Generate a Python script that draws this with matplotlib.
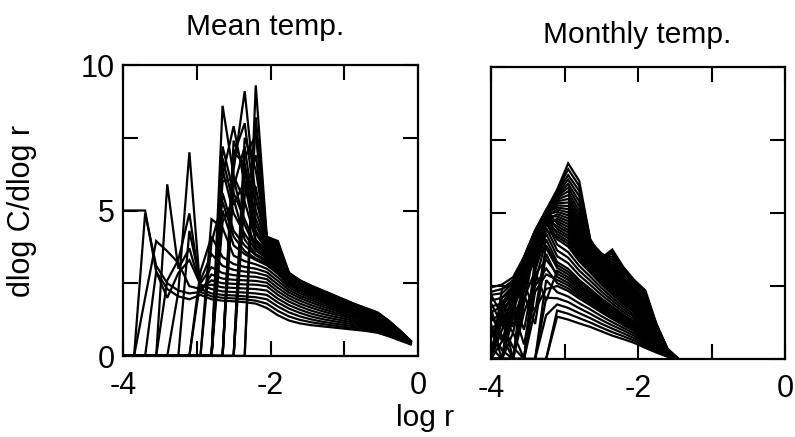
import matplotlib
matplotlib.use("Agg")
import matplotlib.pyplot as plt

plt.rcParams['font.family'] = ['Liberation Sans', 'DejaVu Sans']

# log r sampling grid shared by both panels
log_r = [-4.0, -3.85, -3.7, -3.55, -3.4, -3.25, -3.1, -2.95, -2.8, -2.65,
         -2.5, -2.35, -2.2, -2.05, -1.9, -1.75, -1.6, -1.45, -1.3, -1.15,
         -1.0, -0.85, -0.7, -0.55, -0.4, -0.25, -0.1]

# Local slopes dlog C / dlog r, mean temperature series (one list per curve)
mean_m01 = [5.0, 5.0, 5.0, 2.9, 2.3, 2.05, 1.95, 2.1, 1.95, 1.9, 1.88, 1.85, 1.8, 1.65, 1.40, 1.22, 1.12, 1.06, 1.02, 0.98, 0.94, 0.90, 0.86, 0.80, 0.68, 0.54, 0.40]
mean_m02 = [0.0, 0.0, 4.9, 3.1, 2.5, 2.25, 2.15, 2.2, 2.05, 2.0, 1.98, 1.95, 1.9, 1.80, 1.55, 1.36, 1.24, 1.16, 1.10, 1.05, 1.00, 0.96, 0.92, 0.86, 0.72, 0.57, 0.41]
mean_m03 = [0.0, 0.0, 2.0, 3.95, 3.6, 3.2, 2.4, 2.3, 2.15, 2.1, 2.08, 2.05, 2.02, 1.95, 1.70, 1.50, 1.36, 1.26, 1.18, 1.12, 1.07, 1.02, 0.97, 0.91, 0.76, 0.60, 0.42]
mean_m04 = [0.0, 0.0, 0.0, 2.9, 2.0, 2.85, 3.3, 2.45, 2.3, 2.22, 2.2, 2.18, 2.15, 2.10, 1.84, 1.63, 1.48, 1.36, 1.27, 1.20, 1.14, 1.08, 1.02, 0.96, 0.80, 0.63, 0.43]
mean_m05 = [0.0, 0.0, 0.0, 0.0, 5.9, 3.0, 3.7, 2.4, 2.45, 2.36, 2.34, 2.32, 2.3, 2.25, 1.97, 1.75, 1.59, 1.46, 1.36, 1.28, 1.21, 1.14, 1.07, 1.00, 0.84, 0.65, 0.44]
mean_m06 = [0.0, 0.0, 0.0, 0.0, 2.6, 3.3, 4.9, 2.3, 2.6, 2.5, 2.48, 2.46, 2.45, 2.40, 2.10, 1.87, 1.70, 1.56, 1.45, 1.36, 1.28, 1.20, 1.12, 1.04, 0.87, 0.67, 0.44]
mean_m07 = [0.0, 0.0, 0.0, 0.0, 0.0, 2.2, 7.0, 2.2, 2.8, 2.66, 2.62, 2.6, 2.58, 2.52, 2.22, 1.98, 1.80, 1.66, 1.54, 1.44, 1.35, 1.26, 1.17, 1.08, 0.90, 0.69, 0.45]
mean_m08 = [0.0, 0.0, 0.0, 0.0, 0.0, 0.0, 4.3, 2.5, 3.05, 2.85, 2.78, 2.74, 2.72, 2.64, 2.34, 2.08, 1.90, 1.75, 1.62, 1.51, 1.41, 1.32, 1.22, 1.12, 0.93, 0.71, 0.46]
mean_m09 = [0.0, 0.0, 0.0, 0.0, 0.0, 0.0, 0.0, 2.6, 3.5, 3.1, 2.96, 2.9, 2.86, 2.76, 2.46, 2.18, 1.99, 1.84, 1.70, 1.58, 1.47, 1.37, 1.27, 1.16, 0.96, 0.73, 0.46]
mean_m10 = [0.0, 0.0, 0.0, 0.0, 0.0, 0.0, 0.0, 2.9, 4.1, 3.4, 3.16, 3.06, 3.0, 2.88, 2.58, 2.27, 2.07, 1.92, 1.77, 1.64, 1.53, 1.42, 1.31, 1.20, 0.99, 0.75, 0.47]
mean_m11 = [0.0, 0.0, 0.0, 0.0, 0.0, 0.0, 0.0, 0.0, 4.7, 4.4, 3.45, 3.26, 3.15, 3.00, 2.70, 2.36, 2.15, 1.99, 1.84, 1.70, 1.58, 1.46, 1.35, 1.24, 1.02, 0.77, 0.47]
mean_m12 = [0.0, 0.0, 0.0, 0.0, 0.0, 0.0, 0.0, 0.0, 0.0, 5.0, 3.8, 3.5, 3.3, 3.12, 2.82, 2.44, 2.22, 2.06, 1.90, 1.76, 1.63, 1.51, 1.39, 1.27, 1.05, 0.78, 0.48]
mean_m13 = [0.0, 0.0, 0.0, 0.0, 0.0, 0.0, 0.0, 0.0, 0.0, 5.6, 4.3, 3.8, 3.46, 3.24, 2.94, 2.52, 2.29, 2.12, 1.96, 1.81, 1.68, 1.55, 1.42, 1.30, 1.07, 0.80, 0.48]
mean_m14 = [0.0, 0.0, 0.0, 0.0, 0.0, 0.0, 0.0, 0.0, 0.0, 6.4, 4.9, 4.2, 3.62, 3.36, 3.06, 2.59, 2.35, 2.18, 2.01, 1.86, 1.72, 1.58, 1.45, 1.33, 1.09, 0.81, 0.49]
mean_m15 = [0.0, 0.0, 0.0, 0.0, 0.0, 0.0, 0.0, 0.0, 0.0, 7.2, 5.6, 4.7, 3.8, 3.48, 3.18, 2.65, 2.41, 2.23, 2.06, 1.90, 1.76, 1.62, 1.48, 1.36, 1.11, 0.82, 0.49]
mean_m16 = [0.0, 0.0, 0.0, 0.0, 0.0, 0.0, 0.0, 0.0, 0.0, 8.6, 6.2, 5.3, 4.0, 3.60, 3.30, 2.70, 2.46, 2.28, 2.10, 1.94, 1.79, 1.65, 1.51, 1.38, 1.13, 0.83, 0.50]
mean_m17 = [0.0, 0.0, 0.0, 0.0, 0.0, 0.0, 0.0, 0.0, 0.0, 6.2, 7.9, 5.9, 4.3, 3.70, 3.42, 2.74, 2.50, 2.32, 2.14, 1.97, 1.82, 1.67, 1.53, 1.40, 1.15, 0.84, 0.50]
mean_m18 = [0.0, 0.0, 0.0, 0.0, 0.0, 0.0, 0.0, 0.0, 0.0, 0.0, 7.0, 6.6, 4.7, 3.80, 3.54, 2.77, 2.51, 2.33, 2.17, 2.00, 1.85, 1.70, 1.56, 1.42, 1.17, 0.85, 0.51]
mean_m19 = [0.0, 0.0, 0.0, 0.0, 0.0, 0.0, 0.0, 0.0, 0.0, 0.0, 6.4, 9.1, 5.4, 3.88, 3.65, 2.80, 2.54, 2.36, 2.20, 2.03, 1.88, 1.72, 1.58, 1.44, 1.18, 0.86, 0.51]
mean_m20 = [0.0, 0.0, 0.0, 0.0, 0.0, 0.0, 0.0, 0.0, 0.0, 0.0, 0.0, 7.5, 6.4, 3.96, 3.76, 2.82, 2.56, 2.38, 2.22, 2.06, 1.90, 1.74, 1.60, 1.46, 1.19, 0.87, 0.52]
mean_m21 = [0.0, 0.0, 0.0, 0.0, 0.0, 0.0, 0.0, 0.0, 0.0, 0.0, 0.0, 6.8, 7.6, 4.04, 3.86, 2.84, 2.58, 2.40, 2.24, 2.08, 1.92, 1.76, 1.62, 1.48, 1.21, 0.88, 0.52]
mean_m22 = [0.0, 0.0, 0.0, 0.0, 0.0, 0.0, 0.0, 0.0, 0.0, 0.0, 0.0, 0.0, 9.3, 4.10, 3.95, 2.86, 2.60, 2.42, 2.26, 2.10, 1.94, 1.78, 1.64, 1.50, 1.22, 0.88, 0.52]
mean_m23 = [0.0, 0.0, 0.0, 0.0, 0.0, 0.0, 0.0, 0.0, 3.9, 5.3, 4.1, 3.6, 3.35, 3.18, 2.88, 2.48, 2.26, 2.09, 1.93, 1.78, 1.65, 1.53, 1.40, 1.28, 1.06, 0.79, 0.48]
mean_m24 = [0.0, 0.0, 0.0, 0.0, 0.0, 0.0, 0.0, 0.0, 0.0, 4.6, 5.4, 4.0, 3.5, 3.30, 3.00, 2.55, 2.32, 2.15, 1.98, 1.83, 1.70, 1.56, 1.43, 1.31, 1.08, 0.80, 0.48]
mean_m25 = [0.0, 0.0, 0.0, 0.0, 0.0, 0.0, 0.0, 0.0, 0.0, 6.0, 6.1, 4.5, 3.7, 3.42, 3.12, 2.62, 2.38, 2.20, 2.03, 1.88, 1.74, 1.60, 1.46, 1.34, 1.10, 0.81, 0.49]
mean_m26 = [0.0, 0.0, 0.0, 0.0, 0.0, 0.0, 0.0, 0.0, 0.0, 6.8, 5.2, 6.0, 3.9, 3.54, 3.24, 2.67, 2.43, 2.25, 2.08, 1.92, 1.77, 1.63, 1.49, 1.37, 1.12, 0.82, 0.49]
mean_m27 = [0.0, 0.0, 0.0, 0.0, 0.0, 0.0, 0.0, 0.0, 0.0, 0.0, 7.4, 6.4, 4.2, 3.65, 3.36, 2.72, 2.48, 2.30, 2.12, 1.95, 1.80, 1.66, 1.52, 1.39, 1.14, 0.83, 0.50]
mean_m28 = [0.0, 0.0, 0.0, 0.0, 0.0, 0.0, 0.0, 0.0, 0.0, 0.0, 5.8, 7.2, 4.5, 3.75, 3.48, 2.75, 2.50, 2.32, 2.15, 1.98, 1.83, 1.68, 1.54, 1.41, 1.16, 0.84, 0.50]
mean_m29 = [0.0, 0.0, 0.0, 0.0, 0.0, 0.0, 0.0, 0.0, 0.0, 0.0, 6.9, 8.0, 5.0, 3.84, 3.60, 2.78, 2.52, 2.34, 2.18, 2.01, 1.86, 1.71, 1.57, 1.43, 1.17, 0.85, 0.51]
mean_m30 = [0.0, 0.0, 0.0, 0.0, 0.0, 0.0, 0.0, 0.0, 0.0, 0.0, 0.0, 6.2, 5.8, 3.92, 3.70, 2.81, 2.55, 2.37, 2.21, 2.04, 1.89, 1.73, 1.59, 1.45, 1.18, 0.86, 0.51]
mean_m31 = [0.0, 0.0, 0.0, 0.0, 0.0, 0.0, 0.0, 0.0, 0.0, 0.0, 0.0, 5.5, 6.9, 4.00, 3.81, 2.83, 2.57, 2.39, 2.23, 2.07, 1.91, 1.75, 1.61, 1.47, 1.20, 0.87, 0.52]
mean_m32 = [0.0, 0.0, 0.0, 0.0, 0.0, 0.0, 0.0, 0.0, 0.0, 0.0, 0.0, 0.0, 8.2, 4.07, 3.90, 2.85, 2.59, 2.41, 2.25, 2.09, 1.93, 1.77, 1.63, 1.49, 1.21, 0.88, 0.52]

# Local slopes, monthly temperature series (defined up to log r = -1.45)
month_m01 = [0.40, 0.00, 0.00, 0.00, 0.00, 0.00, 1.45, 1.35, 1.22, 1.10, 0.95, 0.80, 0.68, 0.55, 0.38, 0.22, 0.08, 0.0]
month_m02 = [1.00, 0.30, 0.00, 0.00, 0.00, 0.00, 1.66, 1.55, 1.40, 1.25, 1.08, 0.92, 0.78, 0.63, 0.44, 0.26, 0.09, 0.0]
month_m03 = [1.50, 0.80, 0.00, 0.00, 0.00, 1.50, 1.87, 1.75, 1.57, 1.40, 1.21, 1.04, 0.88, 0.71, 0.50, 0.30, 0.10, 0.0]
month_m04 = [1.90, 1.20, 0.40, 0.00, 0.00, 2.10, 2.08, 1.95, 1.74, 1.55, 1.34, 1.15, 0.98, 0.79, 0.56, 0.34, 0.11, 0.0]
month_m05 = [2.20, 1.50, 0.90, 0.00, 0.00, 2.70, 2.29, 2.14, 1.91, 1.70, 1.47, 1.26, 1.07, 0.87, 0.62, 0.38, 0.12, 0.0]
month_m06 = [0.00, 0.00, 0.00, 0.00, 1.70, 2.40, 2.50, 2.33, 2.07, 1.84, 1.60, 1.37, 1.16, 0.95, 0.68, 0.42, 0.13, 0.0]
month_m07 = [0.00, 0.00, 0.00, 0.00, 2.30, 2.90, 2.71, 2.52, 2.23, 1.98, 1.72, 1.48, 1.25, 1.03, 0.74, 0.46, 0.14, 0.0]
month_m08 = [0.00, 0.00, 0.00, 0.00, 2.90, 3.40, 2.92, 2.71, 2.39, 2.12, 1.84, 1.59, 1.34, 1.11, 0.80, 0.50, 0.15, 0.0]
month_m09 = [0.00, 0.00, 0.00, 0.00, 3.50, 3.80, 3.12, 2.90, 2.55, 2.26, 1.96, 1.70, 1.43, 1.19, 0.86, 0.54, 0.16, 0.0]
month_m10 = [0.00, 0.00, 0.00, 1.60, 2.60, 4.10, 3.32, 3.09, 2.71, 2.40, 2.08, 1.80, 1.52, 1.27, 0.92, 0.58, 0.17, 0.0]
month_m11 = [0.00, 0.00, 0.00, 2.10, 3.00, 4.30, 3.52, 3.28, 2.87, 2.54, 2.20, 1.90, 1.61, 1.35, 0.98, 0.62, 0.18, 0.0]
month_m12 = [0.00, 0.00, 0.00, 2.60, 3.40, 4.50, 3.72, 3.47, 3.03, 2.68, 2.32, 2.00, 1.70, 1.43, 1.04, 0.66, 0.19, 0.0]
month_m13 = [0.00, 0.00, 0.00, 3.10, 3.80, 4.70, 3.92, 3.66, 3.19, 2.82, 2.44, 2.10, 1.79, 1.51, 1.10, 0.70, 0.20, 0.0]
month_m14 = [0.00, 0.00, 1.40, 2.30, 4.10, 4.80, 4.10, 3.85, 3.35, 2.96, 2.56, 2.20, 1.88, 1.59, 1.16, 0.74, 0.21, 0.0]
month_m15 = [0.00, 0.00, 1.80, 2.70, 4.20, 4.90, 4.28, 4.04, 3.51, 3.10, 2.68, 2.30, 1.97, 1.67, 1.22, 0.78, 0.22, 0.0]
month_m16 = [0.00, 0.00, 2.20, 3.20, 4.30, 5.00, 4.46, 4.23, 3.67, 3.24, 2.80, 2.40, 2.06, 1.75, 1.28, 0.82, 0.23, 0.0]
month_m17 = [0.00, 0.00, 2.60, 3.50, 4.40, 5.10, 4.64, 4.42, 3.83, 3.38, 2.92, 2.50, 2.15, 1.83, 1.34, 0.86, 0.24, 0.0]
month_m18 = [0.00, 1.30, 1.90, 2.40, 3.60, 4.60, 4.80, 4.62, 3.99, 3.50, 3.04, 2.60, 2.24, 1.91, 1.40, 0.90, 0.25, 0.0]
month_m19 = [0.00, 1.70, 2.10, 2.80, 3.90, 4.75, 4.96, 4.82, 4.16, 3.62, 3.16, 2.70, 2.33, 1.99, 1.46, 0.94, 0.26, 0.0]
month_m20 = [0.00, 2.10, 2.40, 3.10, 4.05, 4.85, 5.12, 5.02, 4.34, 3.74, 3.28, 2.80, 2.42, 2.07, 1.52, 0.98, 0.27, 0.0]
month_m21 = [0.00, 2.40, 2.60, 3.30, 4.20, 4.95, 5.26, 5.24, 4.54, 3.84, 3.38, 2.90, 2.50, 2.15, 1.60, 1.02, 0.28, 0.0]
month_m22 = [0.80, 1.20, 1.80, 2.90, 3.90, 4.80, 5.40, 5.48, 4.78, 3.92, 3.48, 3.02, 2.58, 2.22, 1.70, 1.06, 0.29, 0.0]
month_m23 = [1.30, 1.60, 2.10, 3.10, 4.10, 4.90, 5.52, 5.74, 5.06, 3.98, 3.56, 3.20, 2.66, 2.28, 1.82, 1.10, 0.30, 0.0]
month_m24 = [1.80, 1.90, 2.35, 3.30, 4.25, 5.00, 5.62, 6.00, 5.40, 4.03, 3.62, 3.40, 2.80, 2.38, 1.98, 1.14, 0.32, 0.0]
month_m25 = [2.20, 2.25, 2.60, 3.45, 4.35, 5.05, 5.72, 6.30, 5.76, 4.07, 3.50, 3.60, 3.00, 2.55, 2.18, 1.18, 0.34, 0.0]
month_m26 = [2.45, 2.55, 2.80, 3.50, 4.40, 5.10, 5.80, 6.70, 6.10, 4.10, 3.45, 3.75, 3.15, 2.70, 2.35, 1.20, 0.36, 0.0]
month_m27 = [0.00, 0.00, 0.00, 0.00, 3.20, 4.40, 4.19, 3.95, 3.43, 3.03, 2.62, 2.25, 1.93, 1.63, 1.19, 0.76, 0.21, 0.0]
month_m28 = [0.00, 0.00, 0.00, 1.90, 3.90, 4.60, 4.37, 4.14, 3.59, 3.17, 2.74, 2.35, 2.02, 1.71, 1.25, 0.80, 0.22, 0.0]
month_m29 = [0.00, 0.00, 0.90, 2.50, 3.70, 4.75, 4.55, 4.33, 3.75, 3.31, 2.86, 2.45, 2.11, 1.79, 1.31, 0.84, 0.23, 0.0]
month_m30 = [0.00, 0.60, 1.60, 2.80, 4.00, 4.85, 4.72, 4.52, 3.91, 3.44, 2.98, 2.55, 2.20, 1.87, 1.37, 0.88, 0.24, 0.0]
month_m31 = [0.00, 0.00, 2.40, 3.00, 4.15, 4.90, 4.88, 4.72, 4.08, 3.56, 3.10, 2.65, 2.29, 1.95, 1.43, 0.92, 0.25, 0.0]
month_m32 = [0.00, 1.00, 2.00, 3.20, 4.20, 4.95, 5.04, 4.92, 4.25, 3.68, 3.22, 2.75, 2.38, 2.03, 1.49, 0.96, 0.26, 0.0]
month_m33 = [0.30, 1.50, 2.30, 3.35, 4.30, 5.00, 5.19, 5.13, 4.44, 3.79, 3.33, 2.85, 2.46, 2.11, 1.56, 1.00, 0.27, 0.0]
month_m34 = [0.00, 1.90, 2.50, 3.40, 4.30, 5.05, 5.33, 5.36, 4.66, 3.88, 3.43, 2.96, 2.54, 2.18, 1.65, 1.04, 0.28, 0.0]
month_m35 = [1.00, 1.40, 2.00, 3.00, 4.00, 4.90, 5.46, 5.61, 4.92, 3.95, 3.52, 3.11, 2.62, 2.25, 1.76, 1.08, 0.30, 0.0]
month_m36 = [1.60, 1.80, 2.30, 3.20, 4.20, 5.00, 5.57, 5.87, 5.23, 4.00, 3.59, 3.30, 2.73, 2.33, 1.90, 1.12, 0.31, 0.0]
month_m37 = [2.00, 2.10, 2.50, 3.40, 4.30, 5.05, 5.67, 6.15, 5.58, 4.05, 3.56, 3.50, 2.90, 2.46, 2.08, 1.16, 0.33, 0.0]
month_m38 = [2.30, 2.40, 2.70, 3.48, 4.38, 5.08, 5.76, 6.50, 5.93, 4.08, 3.48, 3.68, 3.08, 2.62, 2.27, 1.19, 0.35, 0.0]
month_m39 = [1.20, 0.00, 1.70, 0.50, 2.50, 3.10, 2.60, 2.42, 2.15, 1.91, 1.66, 1.42, 1.20, 0.99, 0.71, 0.44, 0.13, 0.0]
month_m40 = [0.70, 1.60, 0.00, 2.20, 1.20, 3.60, 2.81, 2.61, 2.31, 2.05, 1.78, 1.53, 1.29, 1.07, 0.77, 0.48, 0.14, 0.0]
month_m41 = [1.70, 0.60, 2.00, 1.00, 3.00, 2.00, 3.02, 2.80, 2.47, 2.19, 1.90, 1.64, 1.38, 1.15, 0.83, 0.52, 0.15, 0.0]
month_m42 = [0.00, 2.00, 1.10, 2.60, 1.60, 3.90, 3.22, 2.99, 2.63, 2.33, 2.02, 1.75, 1.47, 1.23, 0.89, 0.56, 0.16, 0.0]

mean_curves = [mean_m01, mean_m02, mean_m03, mean_m04, mean_m05, mean_m06, mean_m07,
               mean_m08, mean_m09, mean_m10, mean_m11, mean_m12, mean_m13, mean_m14,
               mean_m15, mean_m16, mean_m17, mean_m18, mean_m19, mean_m20, mean_m21,
               mean_m22, mean_m23, mean_m24, mean_m25, mean_m26, mean_m27, mean_m28,
               mean_m29, mean_m30, mean_m31, mean_m32]
month_curves = [month_m01, month_m02, month_m03, month_m04, month_m05, month_m06,
                month_m07, month_m08, month_m09, month_m10, month_m11, month_m12,
                month_m13, month_m14, month_m15, month_m16, month_m17, month_m18,
                month_m19, month_m20, month_m21, month_m22, month_m23, month_m24,
                month_m25, month_m26, month_m27, month_m28, month_m29, month_m30,
                month_m31, month_m32, month_m33, month_m34, month_m35, month_m36,
                month_m37, month_m38, month_m39, month_m40, month_m41, month_m42]

panel_titles = ["Mean temp.", "Monthly temp."]
x_ticks = [-4, -3, -2, -1, 0]
x_tick_labels = ["-4", "", "-2", "", "0"]
y_ticks = [0, 2.5, 5, 7.5, 10]
y_tick_labels = ["0", "", "5", "", "10"]

W, H = 795, 437
fig = plt.figure(figsize=(W / 100, H / 100), dpi=100)
fig.patch.set_facecolor("white")


def px_axes(x0, y0, x1, y1):
    return fig.add_axes([x0 / W, 1 - y1 / H, (x1 - x0) / W, (y1 - y0) / H])


ax_l = px_axes(123, 65, 418, 356)
ax_r = px_axes(491, 67, 785, 359)

for ax, curves in ((ax_l, mean_curves), (ax_r, month_curves)):
    for vals in curves:
        ax.plot(log_r[:len(vals)], vals, color="black", lw=1.6,
                solid_joinstyle="miter")
    ax.set_xlim(-4, 0)
    ax.set_ylim(0, 10)
    ax.set_xticks(x_ticks)
    ax.set_yticks(y_ticks)
    ax.tick_params(direction="in", length=11, width=1.5, top=True, right=True,
                   labelsize=22, colors="black")
    ax.tick_params(axis="x", pad=11)
    ax.tick_params(axis="y", pad=6)
    for s in ax.spines.values():
        s.set_linewidth(1.6)
        s.set_color("black")

ax_l.set_xticklabels(x_tick_labels)
ax_l.set_yticklabels(y_tick_labels)
ax_r.set_xticklabels(x_tick_labels)
ax_r.set_yticklabels([])

fig.text(265 / W, 1 - 27 / H, panel_titles[0], ha="center", va="center", fontsize=21.5)
fig.text(637 / W, 1 - 35 / H, panel_titles[1], ha="center", va="center", fontsize=21.5)
fig.text(22 / W, 1 - 211 / H, "dlog C/dlog r", ha="center", va="center",
         rotation=90, fontsize=22)
fig.text(425 / W, 1 - 418 / H, "log r", ha="center", va="center", fontsize=21.5)

fig.savefig("out.png", dpi=100, facecolor="white")
